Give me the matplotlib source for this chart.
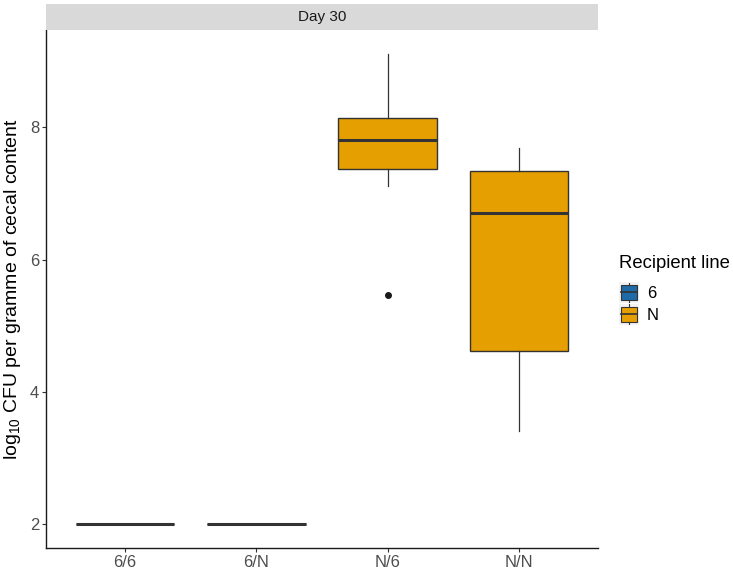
import matplotlib
matplotlib.use('Agg')
import matplotlib.pyplot as plt
from matplotlib.patches import Rectangle
from matplotlib.lines import Line2D
from matplotlib.legend_handler import HandlerBase

plt.rcParams['font.family'] = ['Liberation Sans', 'DejaVu Sans']

# data (box stats)
groups = ['6/6', '6/N', 'N/6', 'N/N']
recipient = ['6', 'N', 'N', 'N']
q1 = [2.0, 2.0, 7.37, 4.62]
med = [2.0, 2.0, 7.80, 6.70]
q3 = [2.0, 2.0, 8.14, 7.34]
whislo = [2.0, 2.0, 7.11, 3.41]
whishi = [2.0, 2.0, 9.10, 7.68]
outliers = [[], [], [5.46], []]
line_names = ['6', 'N']
line_colors = {'6': '#1F6BA8', 'N': '#E69F00'}

stats = []
for i, g in enumerate(groups):
    stats.append(dict(label=g, q1=q1[i], med=med[i], q3=q3[i],
                      whislo=whislo[i], whishi=whishi[i], fliers=outliers[i]))

fig = plt.figure(figsize=(7.33, 5.72), dpi=100)
ax = fig.add_axes([0.0628, 0.042, 0.753, 0.9056])

edge = '#333333'
bp = ax.bxp(stats, positions=range(1, 5), widths=0.75, patch_artist=True,
            showcaps=False,
            boxprops=dict(edgecolor=edge, linewidth=1.0),
            medianprops=dict(color=edge, linewidth=2.2),
            whiskerprops=dict(color=edge, linewidth=0.9),
            flierprops=dict(marker='o', markerfacecolor='#1a1a1a', markeredgecolor='#1a1a1a',
                            markersize=4))
for patch, r in zip(bp['boxes'], recipient):
    patch.set_facecolor(line_colors[r])

ax.set_xlim(0.4, 4.6)
ax.set_ylim(1.64, 9.47)
ax.set_yticks([2, 4, 6, 8])
ax.set_xticks(range(1, 5))
ax.set_xticklabels(groups)
ax.tick_params(axis='both', colors='#333333', labelcolor='#4D4D4D', labelsize=12,
               length=3, width=0.8, pad=2)
for s in ['top', 'right']:
    ax.spines[s].set_visible(False)
for s in ['left', 'bottom']:
    ax.spines[s].set_color('#1a1a1a')
    ax.spines[s].set_linewidth(1.0)

ax.set_ylabel(r'log$_{\mathregular{10}}$ CFU per gramme of cecal content', fontsize=14,
              color='black', labelpad=5)

# facet strip
strip = fig.add_axes([0.0628, 0.9476, 0.753, 0.0455])
strip.set_facecolor('#D9D9D9')
strip.set_xticks([])
strip.set_yticks([])
for s in strip.spines.values():
    s.set_visible(False)
strip.text(0.5, 0.5, 'Day 30', ha='center', va='center', fontsize=11, color='#1a1a1a')


class BoxKey(HandlerBase):
    def create_artists(self, legend, orig_handle, xdescent, ydescent, width, height, fontsize, trans):
        c = orig_handle.get_facecolor()
        h = height * 0.72
        y0 = (height - h) / 2 - ydescent
        x0 = width * 0.06 - xdescent
        w = width * 0.88
        rect = Rectangle((x0, y0), w, h, facecolor=c, edgecolor=edge, linewidth=0.8, transform=trans)
        mid = Line2D([x0, x0 + w], [y0 + h / 2] * 2, color=edge, linewidth=1.2, transform=trans)
        top = Line2D([x0 + w / 2] * 2, [y0 + h, height * 0.96 - ydescent], color=edge, linewidth=0.8,
                     transform=trans)
        bot = Line2D([x0 + w / 2] * 2, [y0, height * 0.04 - ydescent], color=edge, linewidth=0.8,
                     transform=trans)
        bg = Rectangle((-xdescent, -ydescent), width, height, facecolor='#F2F2F2', edgecolor='none',
                       transform=trans)
        return [bg, rect, mid, top, bot]


handles = [Rectangle((0, 0), 1, 1, facecolor=line_colors[n]) for n in line_names]
leg = fig.legend(handles, line_names, title='Recipient line', handler_map={Rectangle: BoxKey()},
                 loc='center left', bbox_to_anchor=(0.845, 0.493), frameon=False,
                 borderaxespad=0,
                 fontsize=12, title_fontsize=13.3, handlelength=1.15, handleheight=1.6,
                 labelspacing=0.02, handletextpad=0.5, borderpad=0)
leg._legend_box.align = 'left'
leg._legend_box.sep = 7

fig.savefig('out.png', dpi=100)
